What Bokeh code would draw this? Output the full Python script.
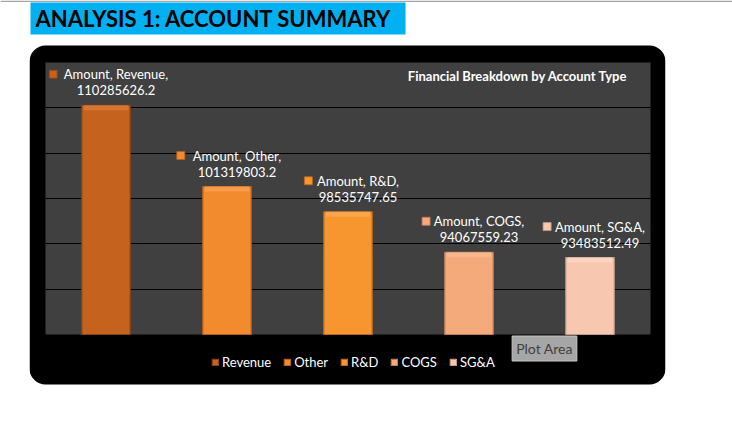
from bokeh.plotting import figure
from bokeh.models import (ColumnDataSource, BoxAnnotation, Label, Legend, LegendItem,
                          Grid, FixedTicker, Range1d)
from bokeh.core.properties import value
from bokeh.embed import file_html
from bokeh.resources import INLINE

# ---------------- data ----------------
categories = ["Revenue", "Other", "R&D", "COGS", "SG&A"]
amounts = [110285626.2, 101319803.2, 98535747.65, 94067559.23, 93483512.49]
amount_labels = ["110285626.2", "101319803.2", "98535747.65", "94067559.23", "93483512.49"]
y_ticks = [90e6, 95e6, 100e6, 105e6, 110e6]
y_start, y_end = 85e6, 115e6

# ---------------- style ----------------
bar_colors = ["#C4621E", "#F28B2D", "#F7952F", "#F4AA7B", "#F7C8AF"]
edge_colors = ["#8A4212", "#B8601A", "#BC661E", "#BF7D55", "#C49A85"]
top_colors = ["#D77A34", "#F59C4C", "#F9A550", "#F6B88F", "#FAD5C2"]
FONT = "Lato"

W, H = 732, 428
FL, FR, FT, FB = 45, 650, 62, 334      # plot-area edges (canvas px)
n = len(categories)
px_per_cat = (FR - FL) / n
data_per_px = (y_end - y_start) / (FB - FT)
char_w = 6.6


def sx(cx):
    return cx


def sy(cy):
    return H - cy


xs = list(range(n))
line1 = [f"Amount, {c}," for c in categories]
key_x = [i + (10 - len(t) * char_w / 2 - 10) / px_per_cat for i, t in zip(xs, line1)]
key_y = [a + 31 * data_per_px for a in amounts]
strip_bottom = [a - 5 * data_per_px for a in amounts]

src = ColumnDataSource(dict(x=xs, cat=categories, amount=amounts, lab1=line1, lab2=amount_labels,
                            color=bar_colors, edge=edge_colors, top_c=top_colors,
                            kx=key_x, ky=key_y, sb=strip_bottom))

x_range = Range1d(-0.5 - FL / px_per_cat, n - 0.5 + (W - FR) / px_per_cat)
y_range = Range1d(y_start - (H - FB) * data_per_px, y_end + FT * data_per_px)

p = figure(width=W, height=H, x_range=x_range, y_range=y_range,
           x_axis_location=None, y_axis_location=None, min_border=0,
           output_backend="svg", toolbar_location=None, title=None,
           border_fill_color="white", background_fill_color="white",
           outline_line_color=None)
p.grid.visible = False


def sbox(l, r, t, b, color, **kw):
    return BoxAnnotation(left=sx(l), right=sx(r), top=sy(t), bottom=sy(b),
                         left_units="screen", right_units="screen", top_units="screen",
                         bottom_units="screen", fill_color=color, fill_alpha=1,
                         line_color=None, **kw)


# page decorations
p.add_layout(sbox(0, W, 0, 1.5, "#A6A6A6", level="image"))
p.add_layout(sbox(30, 405, 2, 34, "#00B0F0", level="image"))
p.add_layout(sbox(29, 665, 45, 384, "black", border_radius=16, level="image"))
# grey plot area (data units)
p.add_layout(BoxAnnotation(left=-0.5, right=n - 0.5, bottom=y_start, top=y_end,
                           fill_color="#404040", fill_alpha=1, line_color=None, level="image"))

grid = Grid(dimension=1, ticker=FixedTicker(ticks=y_ticks), grid_line_color="black",
            grid_line_width=1.2, level="underlay")
try:
    grid.cross_bounds = (-0.5, n - 0.5)
except Exception:
    pass
p.add_layout(grid)
# white masks so grid lines don't leak outside the black chart box
p.add_layout(sbox(0, 29, 40, 390, "white", level="glyph"))
p.add_layout(sbox(665, W, 40, 390, "white", level="glyph"))

bars = p.vbar(x="x", width=0.4, bottom=y_start, top="amount", source=src,
              fill_color="color", line_color="edge", line_width=1.2)
p.vbar(x="x", width=0.37, bottom="sb", top="amount", source=src,
       fill_color="top_c", line_color=None, fill_alpha=0.9)

# data labels
p.text(x="x", y="amount", text="lab1", source=src, x_offset=10, y_offset=-31,
       text_align="center", text_baseline="middle", text_color="white",
       text_font=value(FONT), text_font_size="13px")
p.text(x="x", y="amount", text="lab2", source=src, x_offset=10, y_offset=-15,
       text_align="center", text_baseline="middle", text_color="white",
       text_font=value(FONT), text_font_size="13px")
p.scatter(x="kx", y="ky", source=src, marker="square", size=8, fill_color="color",
          line_color="edge", line_width=0.8)

# header title
p.add_layout(Label(x=sx(35), y=sy(18), x_units="screen", y_units="screen",
                   text="ANALYSIS 1: ACCOUNT SUMMARY", text_font=FONT, text_font_size="22px",
                   text_font_style="bold", text_color="black", text_baseline="middle",
                   text_align="left"))
# chart title
p.add_layout(Label(x=sx(627), y=sy(75), x_units="screen", y_units="screen",
                   text="Financial Breakdown by Account Type", text_font=FONT,
                   text_font_size="13px", text_font_style="bold", text_color="white",
                   text_baseline="middle", text_align="right"))

# legend
items = [LegendItem(label=c, renderers=[bars], index=i) for i, c in enumerate(categories)]
legend = Legend(items=items, orientation="horizontal", location=(sx(211), sy(370)),
                glyph_width=8, glyph_height=8, label_standoff=3, spacing=12, padding=0,
                margin=0, label_height=14, label_text_font=FONT, label_text_font_size="13px",
                label_text_color="white", background_fill_alpha=0, border_line_color=None)
p.add_layout(legend)

# "Plot Area" tooltip
p.add_layout(Label(x=sx(544), y=sy(348), x_units="screen", y_units="screen",
                   text="Plot Area", text_font=FONT, text_font_size="14px",
                   text_color="#3F3F3F", text_baseline="middle", text_align="center",
                   background_fill_color="#A6A6A6", border_line_color="#C8C8C8",
                   padding=4))

open("out.html", "w").write(file_html(p, INLINE))
